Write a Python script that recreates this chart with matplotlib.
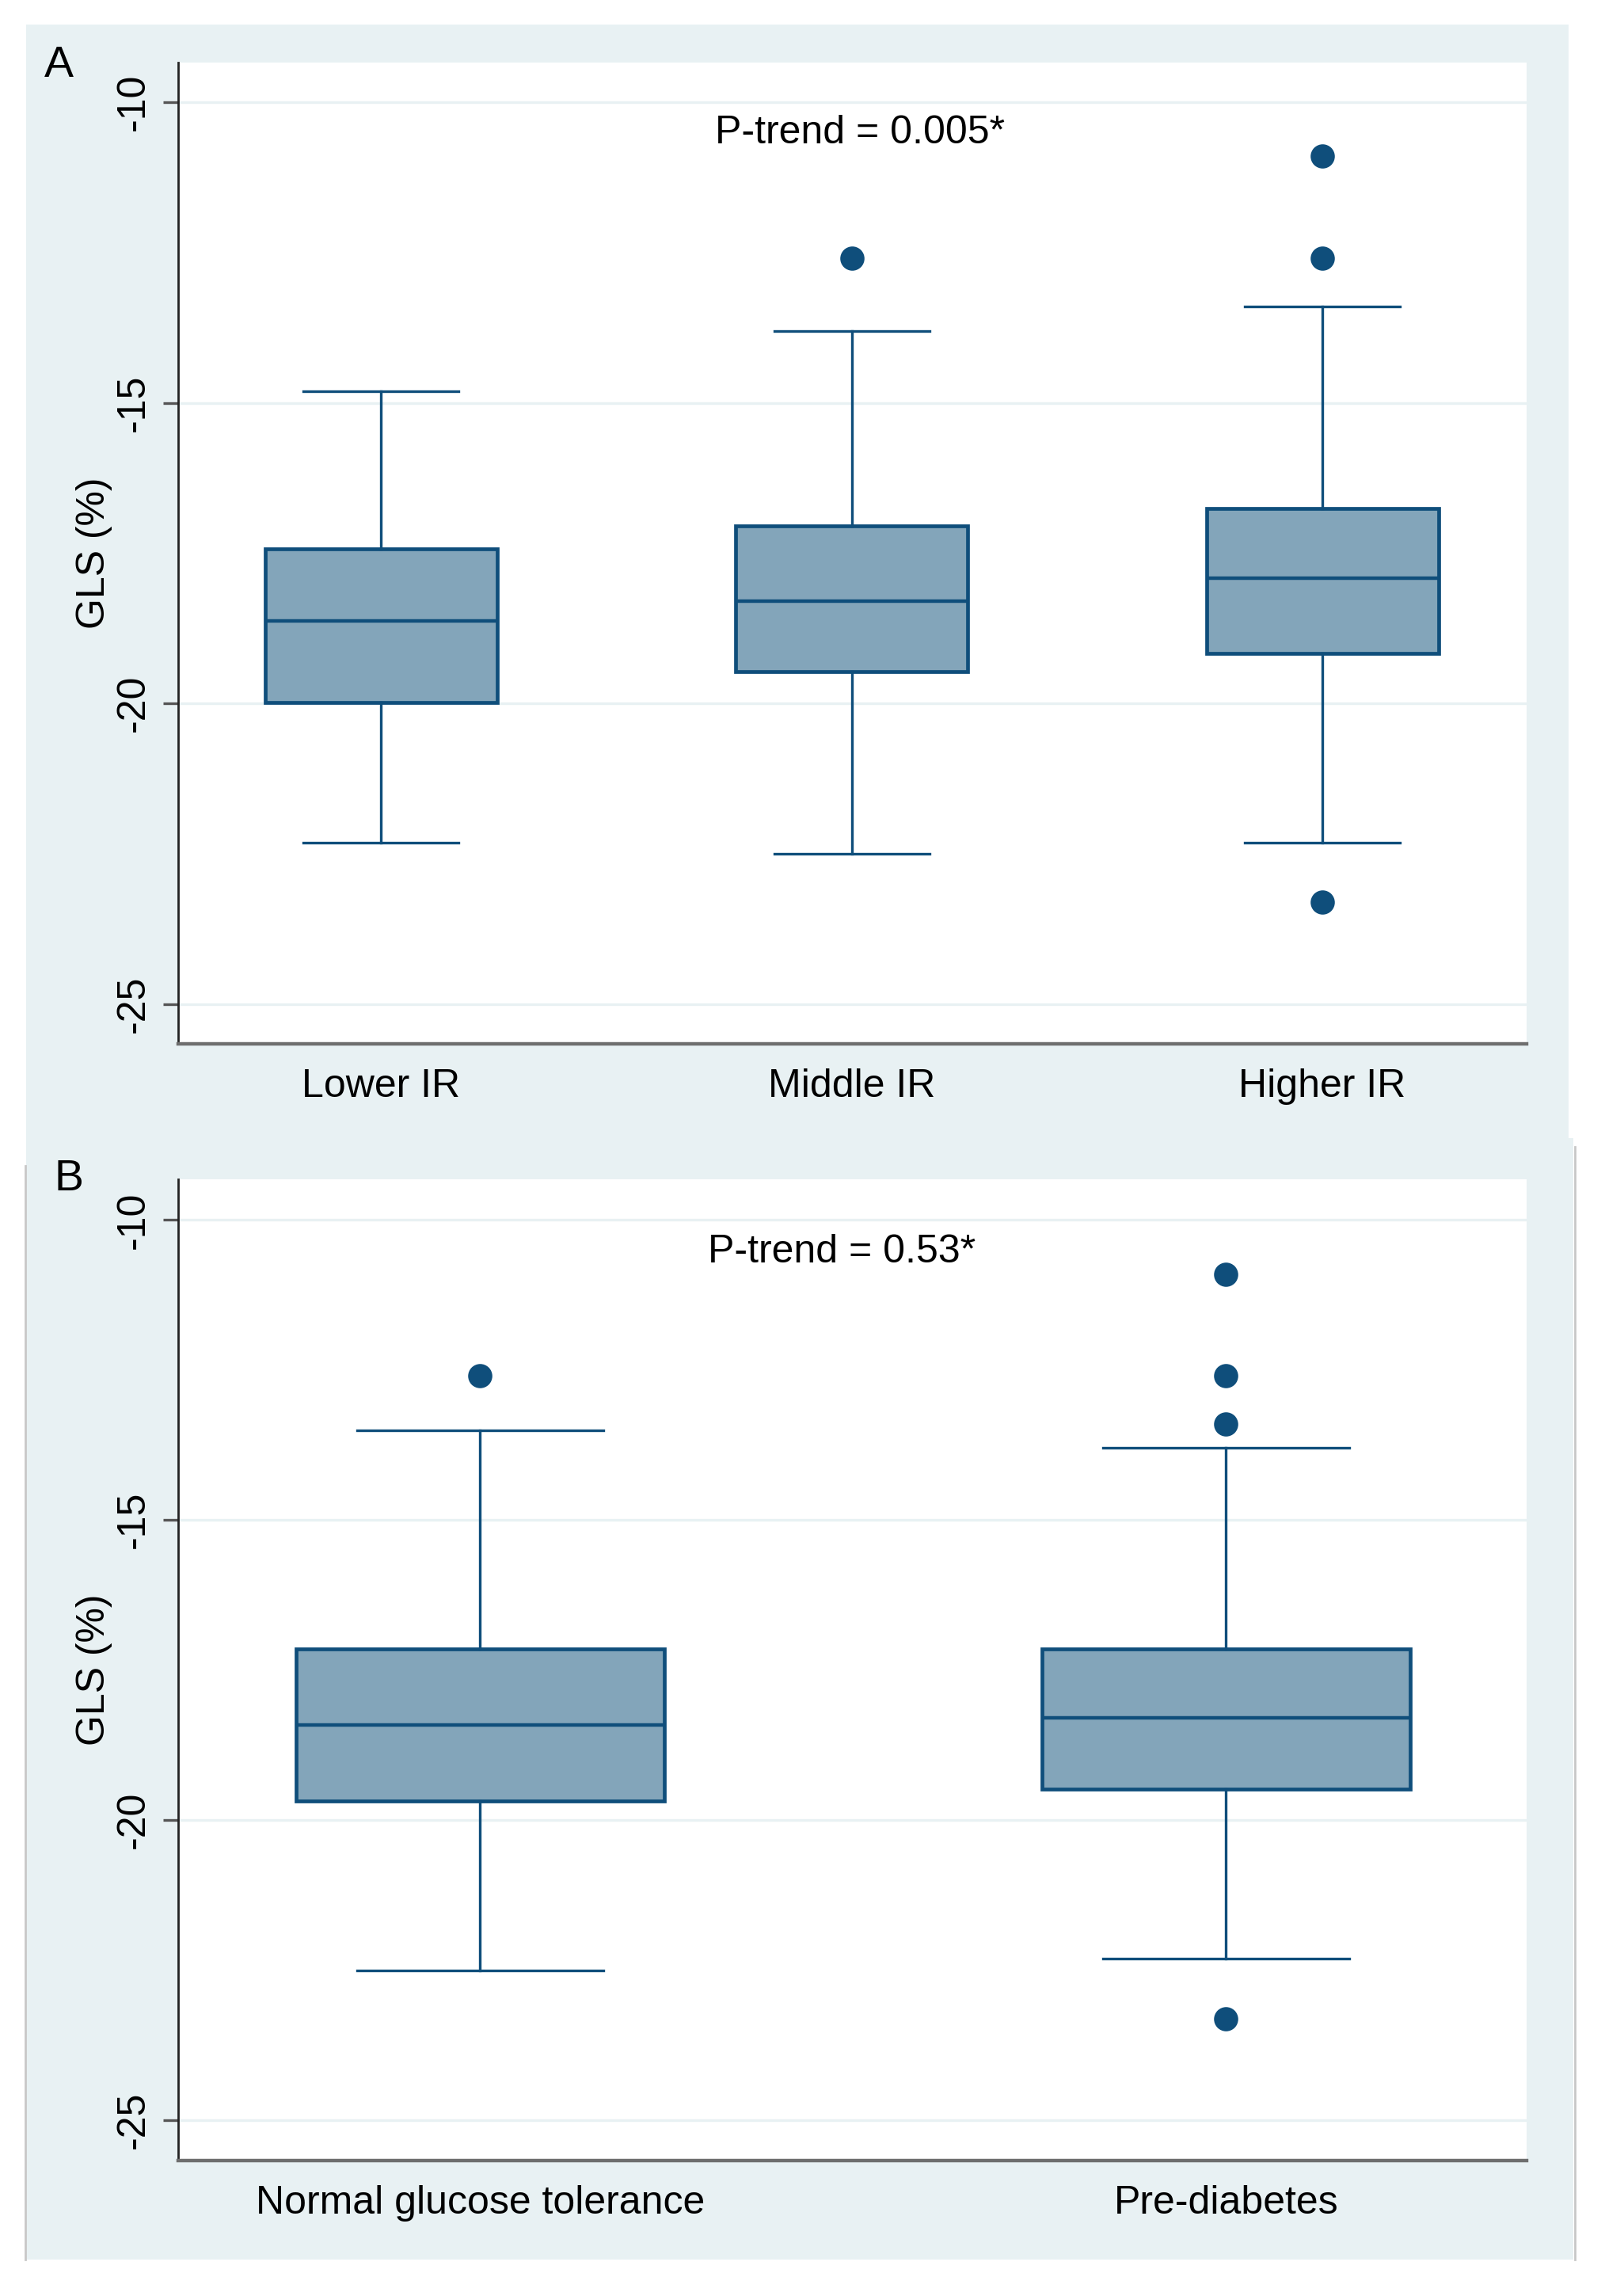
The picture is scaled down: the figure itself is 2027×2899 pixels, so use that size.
import matplotlib
matplotlib.use("Agg")
import matplotlib.pyplot as plt
from matplotlib.patches import Rectangle
from matplotlib.lines import Line2D

# ---------------- data ----------------
cats_a = ["Lower IR", "Middle IR", "Higher IR"]
whislo_a = [-22.31, -22.50, -22.31]
q1_a = [-19.98, -19.47, -19.17]
med_a = [-18.62, -18.30, -17.91]
q3_a = [-17.43, -17.04, -16.75]
whishi_a = [-14.81, -13.81, -13.40]
fliers_a = [[], [-12.60], [-10.90, -12.60, -23.30]]
ptrend_a = "P-trend = 0.005*"

cats_b = ["Normal glucose tolerance", "Pre-diabetes"]
whislo_b = [-22.51, -22.31]
q1_b = [-19.68, -19.49]
med_b = [-18.42, -18.30]
q3_b = [-17.15, -17.15]
whishi_b = [-13.50, -13.80]
fliers_b = [[-12.60], [-10.90, -12.60, -13.40, -23.31]]
ptrend_b = "P-trend = 0.53*"

yticks = [-10, -15, -20, -25]

# ---------------- style ----------------
plt.rcParams['font.family'] = ['Liberation Sans', 'DejaVu Sans']
BG = "#e8f1f3"
GRID = "#e8f1f3"
FILL = "#83a5ba"
EDGE = "#0f4e7b"
FS = 18

W, H = 2027, 2899
fig = plt.figure(figsize=(W / 200, H / 200), dpi=200, facecolor="white")

# panel backgrounds
fig.patches.append(Rectangle((33 / W, 1 - 1437 / H), (1981 - 33) / W, (1437 - 31) / H,
                             transform=fig.transFigure, facecolor=BG, edgecolor="none", zorder=-5))
fig.patches.append(Rectangle((33 / W, 1 - 2853 / H), (1987 - 33) / W, (2853 - 1437) / H,
                             transform=fig.transFigure, facecolor=BG, edgecolor="none", zorder=-5))
fig.lines.append(Line2D([32 / W, 32 / W], [1 - 1472 / H, 1 - 2853 / H], transform=fig.transFigure,
                        color="#c8c8c8", lw=1.0, zorder=-4))
fig.lines.append(Line2D([1989 / W, 1989 / W], [1 - 1448 / H, 1 - 2853 / H], transform=fig.transFigure,
                        color="#c8c8c8", lw=1.0, zorder=-4))


def make_stats(cats, wlo, q1, med, q3, whi, fl):
    return [dict(label=c, whislo=a, q1=b, med=m, q3=d, whishi=e, fliers=f)
            for c, a, b, m, d, e, f in zip(cats, wlo, q1, med, q3, whi, fl)]


def draw_panel(rect, stats, xlim, ylim, ptxt, ptpos):
    ax = fig.add_axes(rect)
    ax.set_zorder(1)
    ax.set_facecolor("white")
    n = len(stats)
    ax.bxp(stats, positions=range(1, n + 1), widths=0.493, capwidths=0.33,
           patch_artist=True, showfliers=True,
           boxprops=dict(facecolor=FILL, edgecolor=EDGE, linewidth=1.7),
           medianprops=dict(color=EDGE, linewidth=1.6),
           whiskerprops=dict(color=EDGE, linewidth=1.2),
           capprops=dict(color=EDGE, linewidth=1.2),
           flierprops=dict(marker="o", markerfacecolor=EDGE, markeredgecolor=EDGE,
                           markersize=10, linestyle="none"),
           zorder=3)
    ax.set_xlim(*xlim)
    ax.set_ylim(*ylim)
    ax.set_yticks(yticks)
    ax.set_yticklabels([str(t) for t in yticks], rotation=90, va="center")
    ax.set_xticks(range(1, n + 1))
    ax.set_xticklabels([s["label"] for s in stats])
    ax.yaxis.grid(True, color=GRID, linewidth=1.2, zorder=0)
    ax.set_axisbelow(True)
    for s in ["top", "right"]:
        ax.spines[s].set_visible(False)
    ax.spines["left"].set_color("#222222")
    ax.spines["left"].set_linewidth(1.0)
    ax.spines["bottom"].set_color("#6e6e6e")
    ax.spines["bottom"].set_linewidth(1.6)
    ax.tick_params(axis="y", length=7, width=1.2, color="#555555", pad=5, labelsize=FS)
    ax.tick_params(axis="x", length=0, pad=11, labelsize=FS)
    ax.set_ylabel("GLS (%)", fontsize=FS)
    ax.yaxis.set_label_coords(-0.049, 0.5)
    ax.text(ptpos[0], ptpos[1], ptxt, ha="center", va="center", fontsize=FS)
    return ax


stats_a = make_stats(cats_a, whislo_a, q1_a, med_a, q3_a, whishi_a, fliers_a)
stats_b = make_stats(cats_b, whislo_b, q1_b, med_b, q3_b, whishi_b, fliers_b)

draw_panel([225 / W, 1 - 1318 / H, (1928 - 225) / W, (1318 - 79) / H], stats_a,
           (0.569, 3.434), (-25.66, -9.34), ptrend_a, (2.017, -10.51))
draw_panel([225 / W, 1 - 2728 / H, (1928 - 225) / W, (2728 - 1489) / H], stats_b,
           (0.595, 2.403), (-25.68, -9.32), ptrend_b, (1.485, -10.53))

fig.text(74 / W, 1 - 83 / H, "A", ha="center", va="center", fontsize=20)
fig.text(87 / W, 1 - 1489 / H, "B", ha="center", va="center", fontsize=20)

fig.savefig("out.png", dpi=200, facecolor="white")
